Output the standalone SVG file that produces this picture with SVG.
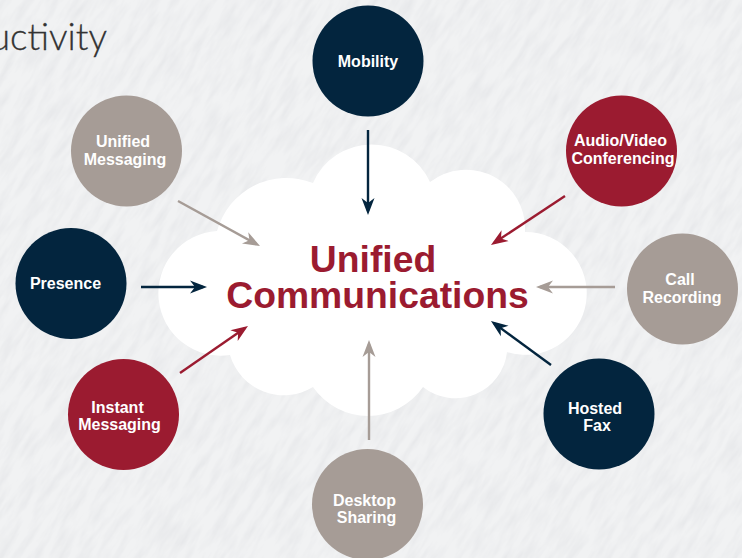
<svg xmlns="http://www.w3.org/2000/svg" width="742" height="558" viewBox="0 0 742 558">
<style>
.lbl{font-family:"Liberation Sans",Arial,sans-serif;font-weight:700;font-size:16px;fill:#fff;text-anchor:middle}
.navy{fill:#03253e}.red{fill:#9b1b30}.gray{fill:#a69c96}
.c{fill:none;stroke-width:2.4}
</style>
<defs>
<marker id="an" markerUnits="userSpaceOnUse" markerWidth="19" markerHeight="15" refX="13" refY="7" orient="auto"><path d="M0 0.500 L17 7 L0 13.500 L5 7Z" fill="#03253e"/></marker>
<marker id="ar" markerUnits="userSpaceOnUse" markerWidth="19" markerHeight="15" refX="13" refY="7" orient="auto"><path d="M0 0.500 L17 7 L0 13.500 L5 7Z" fill="#9b1b30"/></marker>
<marker id="ag" markerUnits="userSpaceOnUse" markerWidth="19" markerHeight="15" refX="13" refY="7" orient="auto"><path d="M0 0.500 L17 7 L0 13.500 L5 7Z" fill="#a69c96"/></marker>
<filter id="paper" filterUnits="userSpaceOnUse" x="-400" y="-400" width="1542" height="1358"><feTurbulence type="fractalNoise" baseFrequency="0.03 0.13" numOctaves="5" seed="11"/><feColorMatrix values="0 0 0 0 0.78 0 0 0 0 0.79 0 0 0 0 0.81 1.5 0 0 0 -0.55"/></filter>
</defs>
<rect width="742" height="558" fill="#f1f2f3"/>
<rect x="-400" y="-400" width="1542" height="1358" fill="#dfe1e3" filter="url(#paper)" transform="rotate(-58 371 279)"/>
<text x="107" y="50" text-anchor="end" font-family="Lato,'Open Sans',sans-serif" font-weight="300" font-size="37" fill="#333" stroke="#333" stroke-width="0.3">uctivity</text>
<g id="cloud"><path fill="#fff" d="M313 183 A64 64 0 0 1 430 182 A59 59 0 0 1 525 232 A61.400 61.400 0 1 1 507 352 A52 52 0 0 1 423 387 A66.700 66.700 0 0 1 313 387 A56 56 0 0 1 230 355 A62.400 62.400 0 1 1 217 231 A72 72 0 0 1 313 183Z"/></g>
<g id="connectors">
<line class="c" x1="368" y1="130" x2="368" y2="211" stroke="#03253e" marker-end="url(#an)"/>
<line class="c" x1="178" y1="201" x2="256.500" y2="244.100" stroke="#a69c96" marker-end="url(#ag)"/>
<line class="c" x1="565" y1="196" x2="494.300" y2="242.800" stroke="#9b1b30" marker-end="url(#ar)"/>
<line class="c" x1="141" y1="287" x2="203" y2="287" stroke="#03253e" marker-end="url(#an)"/>
<line class="c" x1="615" y1="287" x2="540" y2="287" stroke="#a69c96" marker-end="url(#ag)"/>
<line class="c" x1="180" y1="373" x2="244.700" y2="328.300" stroke="#9b1b30" marker-end="url(#ar)"/>
<line class="c" x1="551" y1="365" x2="494.200" y2="323.400" stroke="#03253e" marker-end="url(#an)"/>
<line class="c" x1="369" y1="440" x2="369" y2="344" stroke="#a69c96" marker-end="url(#ag)"/>
</g>
<g id="mobility"><circle class="navy" cx="368" cy="61" r="55.500"/><text class="lbl" x="368" y="67">Mobility</text></g>
<g id="unified-messaging"><circle class="gray" cx="126.500" cy="151" r="55.500"/><text class="lbl" x="123" y="146.500">Unified</text><text class="lbl" x="125" y="164.500">Messaging</text></g>
<g id="audio-video"><circle class="red" cx="621.500" cy="151" r="55.500"/><text class="lbl" x="620.500" y="145.500">Audio/Video</text><text class="lbl" x="623" y="163.500">Conferencing</text></g>
<g id="presence"><circle class="navy" cx="71" cy="283.500" r="55.500"/><text class="lbl" x="65.500" y="289">Presence</text></g>
<g id="call-recording"><circle class="gray" cx="682.500" cy="289" r="55.500"/><text class="lbl" x="680" y="285">Call</text><text class="lbl" x="682" y="303">Recording</text></g>
<g id="instant-messaging"><circle class="red" cx="123.500" cy="414.500" r="55.500"/><text class="lbl" x="117.500" y="412.500">Instant</text><text class="lbl" x="119.500" y="430">Messaging</text></g>
<g id="hosted-fax"><circle class="navy" cx="599" cy="414" r="55.500"/><text class="lbl" x="595" y="414">Hosted</text><text class="lbl" x="597" y="431">Fax</text></g>
<g id="desktop-sharing"><circle class="gray" cx="367.500" cy="504.500" r="55.500"/><text class="lbl" x="364.500" y="506">Desktop</text><text class="lbl" x="366.500" y="523">Sharing</text></g>
<g id="title" font-family="'Liberation Sans',Arial,sans-serif" font-weight="700" font-size="37.300" fill="#9b1b30" text-anchor="middle"><text x="373" y="272">Unified</text><text x="377.500" y="308">Communications</text></g>
</svg>
